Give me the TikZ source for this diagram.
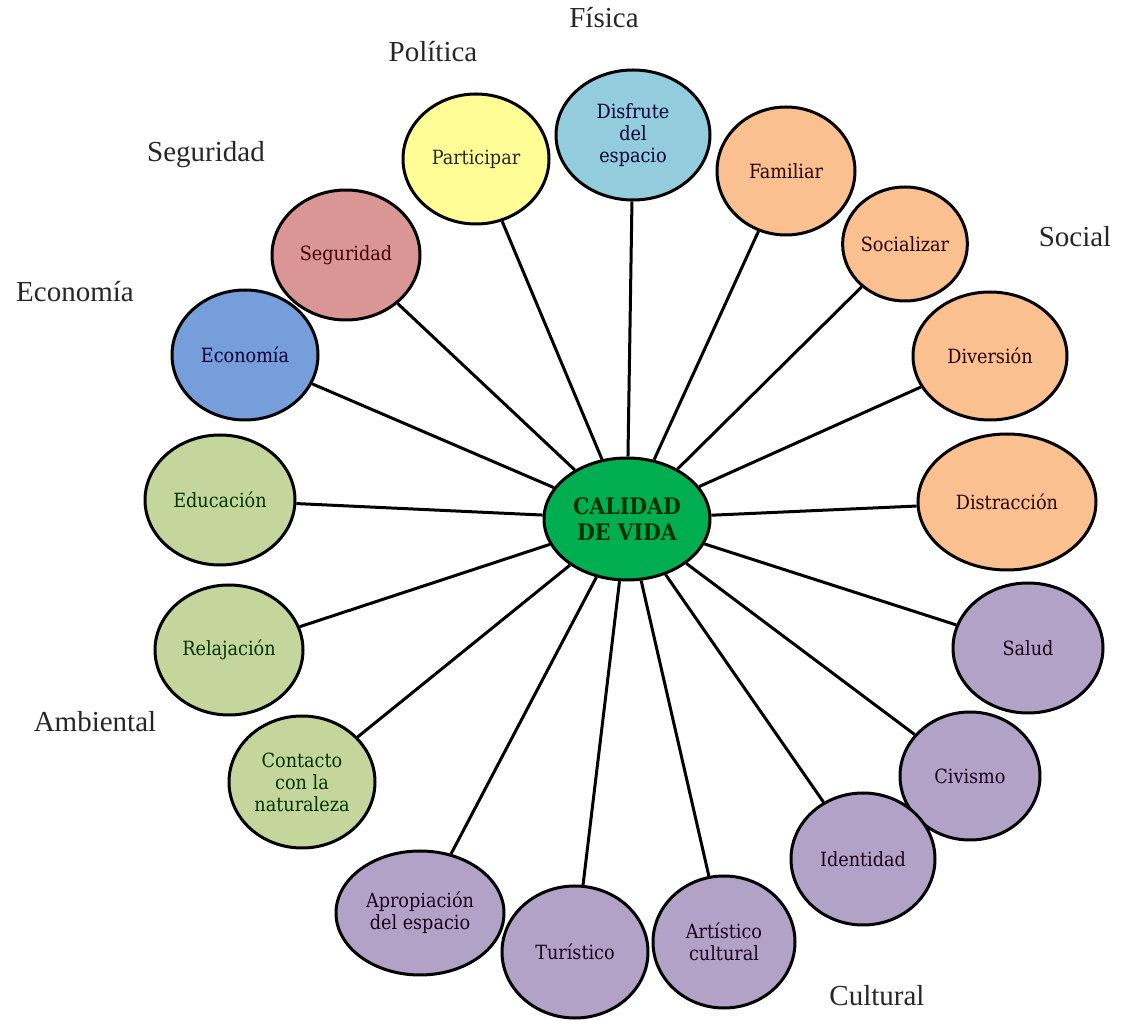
\documentclass[tikz,border=0pt]{standalone}
\usepackage{fontspec}
\setmainfont{Liberation Serif}
\newfontfamily\boxfont{DejaVu Serif Condensed}
\usetikzlibrary{shapes.geometric}

% fills of the groups
\definecolor{amarillo}{RGB}{255,253,150}
\definecolor{celeste}{RGB}{147,205,221}
\definecolor{naranja}{RGB}{250,192,143}
\definecolor{lila}{RGB}{178,162,199}
\definecolor{oliva}{RGB}{196,214,155}
\definecolor{azul}{RGB}{118,158,218}
\definecolor{rojo}{RGB}{218,150,148}
\definecolor{verde}{RGB}{0,174,80}

\tikzset{
  circulo/.style={ellipse, draw=black, line width=1.5pt, inner sep=0pt,
    align=center, font=\boxfont\fontsize{9.8}{11}\selectfont,
    minimum width=73pt, minimum height=65pt},
  grupo/.style={font=\fontsize{14.5}{16}\selectfont, text=black!85},
  rayo/.style={line width=1.5pt, black}
}

\begin{document}
\begin{tikzpicture}[x=0.5pt, y=-0.5pt]
	\useasboundingbox (0,0) rectangle (1121,1021);

	% centre
	\node[circulo, fill=verde, minimum width=83pt, minimum height=61pt,
	  font=\boxfont\bfseries\fontsize{11.4}{12.6}\selectfont, text=black!80!green] (calidad) at (627,519) {CALIDAD\\DE VIDA};

	% ring of factors, clockwise from the top
	\node[circulo, fill=amarillo, text=black!85] (participar) at (476,159) {Participar};
	\node[circulo, fill=celeste, minimum width=77pt, text=black!80!blue] (disfrute) at (633,135) {Disfrute\\del\\espacio};
	\node[circulo, fill=naranja, minimum width=69pt, minimum height=64pt, text=black!85!red] (familiar) at (786,171) {Familiar};
	\node[circulo, fill=naranja, minimum width=62pt, minimum height=57pt, text=black!85!red] (socializar) at (905,244) {Socializar};
	\node[circulo, fill=naranja, minimum width=77pt, minimum height=64pt, text=black!85!red] (diversion) at (990,356) {Diversión};
	\node[circulo, fill=naranja, minimum width=89pt, minimum height=68pt, text=black!85!red] (distraccion) at (1007,502) {Distracción};
	\node[circulo, fill=lila, minimum width=75pt, text=black!80!violet] (salud) at (1028,648) {Salud};
	\node[circulo, fill=lila, minimum width=70pt, minimum height=64pt, text=black!80!violet] (civismo) at (970,776) {Civismo};
	\node[circulo, fill=lila, minimum width=72pt, minimum height=66pt, text=black!80!violet] (identidad) at (863,859) {Identidad};
	\node[circulo, fill=lila, minimum width=71pt, minimum height=66pt, text=black!80!violet] (artistico) at (724,942) {Artístico\\cultural};
	\node[circulo, fill=lila, text=black!80!violet, minimum height=66pt] (turistico) at (575,952) {Turístico};
	\node[circulo, fill=lila, minimum width=84pt, minimum height=62pt, text=black!80!violet] (apropiacion) at (420,913) {Apropiación\\del espacio};
	\node[circulo, fill=oliva, minimum height=66pt, text=black!80!green] (contacto) at (302,782) {Contacto\\con la\\naturaleza};
	\node[circulo, fill=oliva, minimum width=74pt, text=black!80!green] (relajacion) at (229,650) {Relajación};
	\node[circulo, fill=oliva, minimum width=75pt, text=black!80!green] (educacion) at (220,500) {Educación};
	\node[circulo, fill=azul, text=black!80!blue] (economia) at (245,355) {Economía};
	\node[circulo, fill=rojo, minimum width=74pt, text=black!75!red] (seguridad) at (346,255) {Seguridad};

	% group names
	\node[grupo] (g-fisica) at (604,18) {Física};
	\node[grupo] (g-politica) at (433,52) {Política};
	\node[grupo] (g-seguridad) at (206,155) {Seguridad};
	\node[grupo] (g-economia) at (75,292) {Economía};
	\node[grupo] (g-social) at (1075,237) {Social};
	\node[grupo] (g-ambiental) at (95,722) {Ambiental};
	\node[grupo] (g-cultural) at (877,996) {Cultural};

	% spokes
	\draw[rayo] (calidad) -- (participar);
	\draw[rayo] (calidad) -- (disfrute);
	\draw[rayo] (calidad) -- (familiar);
	\draw[rayo] (calidad) -- (socializar);
	\draw[rayo] (calidad) -- (diversion);
	\draw[rayo] (calidad) -- (distraccion);
	\draw[rayo] (calidad) -- (salud);
	\draw[rayo] (calidad) -- (civismo);
	\draw[rayo] (calidad) -- (identidad);
	\draw[rayo] (calidad) -- (artistico);
	\draw[rayo] (calidad) -- (turistico);
	\draw[rayo] (calidad) -- (apropiacion);
	\draw[rayo] (calidad) -- (contacto);
	\draw[rayo] (calidad) -- (relajacion);
	\draw[rayo] (calidad) -- (educacion);
	\draw[rayo] (calidad) -- (economia);
	\draw[rayo] (calidad) -- (seguridad);

\end{tikzpicture}
\end{document}
